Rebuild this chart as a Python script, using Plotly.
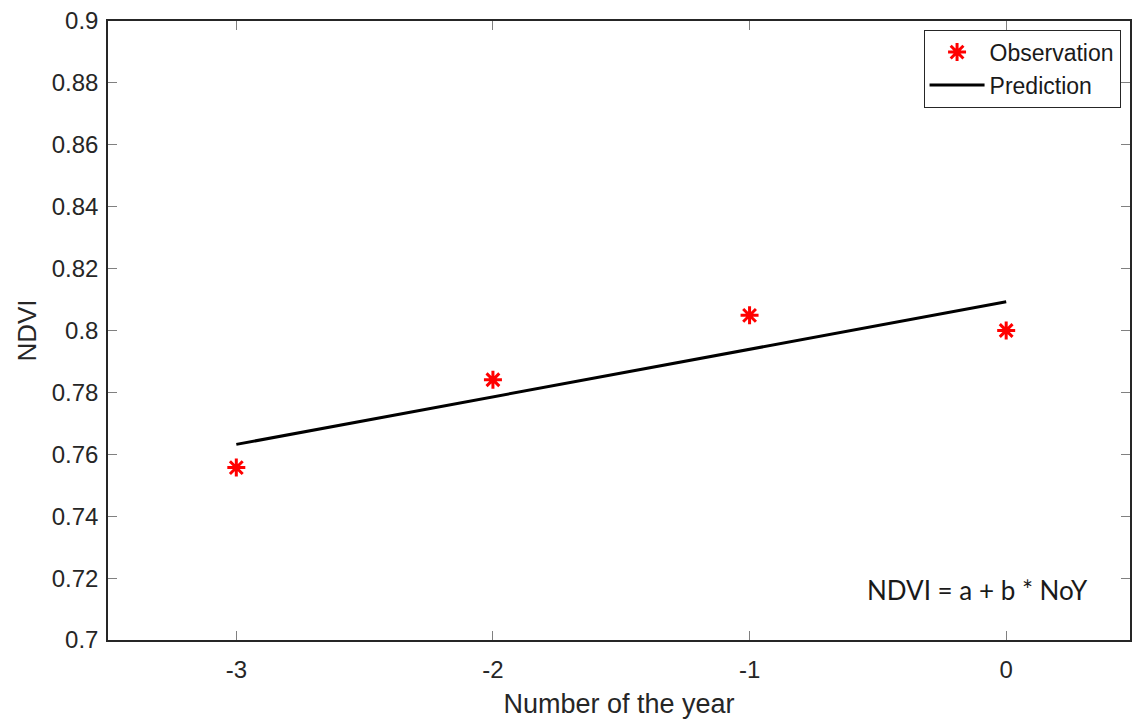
import plotly.graph_objects as go

years = [-3, -2, -1, 0]
ndvi_obs = [0.7557, 0.7841, 0.8049, 0.8000]
pred_x = [-3, 0]
pred_y = [0.7632, 0.8093]
x_ticks = [-3, -2, -1, 0]
y_ticks = [0.7, 0.72, 0.74, 0.76, 0.78, 0.8, 0.82, 0.84, 0.86, 0.88, 0.9]
y_tick_text = ["0.7", "0.72", "0.74", "0.76", "0.78", "0.8", "0.82", "0.84", "0.86", "0.88", "0.9"]

fig = go.Figure()
fig.add_trace(go.Scatter(
    x=years, y=ndvi_obs, mode="markers", name="Observation",
    marker=dict(symbol="asterisk-open", size=15, color="#ff0000",
                line=dict(color="#ff0000", width=3)),
))
fig.add_trace(go.Scatter(
    x=pred_x, y=pred_y, mode="lines", name="Prediction",
    line=dict(color="black", width=3),
))

fig.add_annotation(
    x=-0.113, y=0.7162, xref="x", yref="y", text="NDVI = a + b * NoY",
    showarrow=False, font=dict(family="Lato, Open Sans, sans-serif", size=26, color="#1a1a1a"),
)

axis_font = dict(family="Liberation Sans, Arial, sans-serif", size=24, color="#262626")
fig.update_layout(
    width=1132, height=722,
    margin=dict(l=108, r=0, t=21, b=82),
    paper_bgcolor="white", plot_bgcolor="white",
    font=axis_font,
    showlegend=True,
    legend=dict(
        x=0.798, y=0.986, xanchor="left", yanchor="top",
        bordercolor="#262626", borderwidth=1, bgcolor="white",
        font=dict(family="Liberation Sans, Arial, sans-serif", size=23, color="#1a1a1a"),
        itemwidth=55, tracegroupgap=0,
    ),
    xaxis=dict(
        range=[-3.5, 0.4825], tickvals=x_ticks, ticktext=[str(v) for v in x_ticks],
        showgrid=False, zeroline=False, showline=True, linecolor="#262626", linewidth=1.5,
        mirror="ticks", ticks="inside", ticklen=9, tickcolor="#808080",
        ticklabelstandoff=7,
        title=dict(text="Number of the year", font=dict(size=27, color="#262626"), standoff=13),
    ),
    yaxis=dict(
        range=[0.7, 0.9], tickvals=y_ticks, ticktext=y_tick_text,
        showgrid=False, zeroline=False, showline=True, linecolor="#262626", linewidth=1.5,
        mirror="ticks", ticks="inside", ticklen=9, tickcolor="#808080",
        ticklabelstandoff=3,
        title=dict(text="NDVI", font=dict(size=26, color="#262626"), standoff=8),
    ),
)

fig.write_html("out.html")
